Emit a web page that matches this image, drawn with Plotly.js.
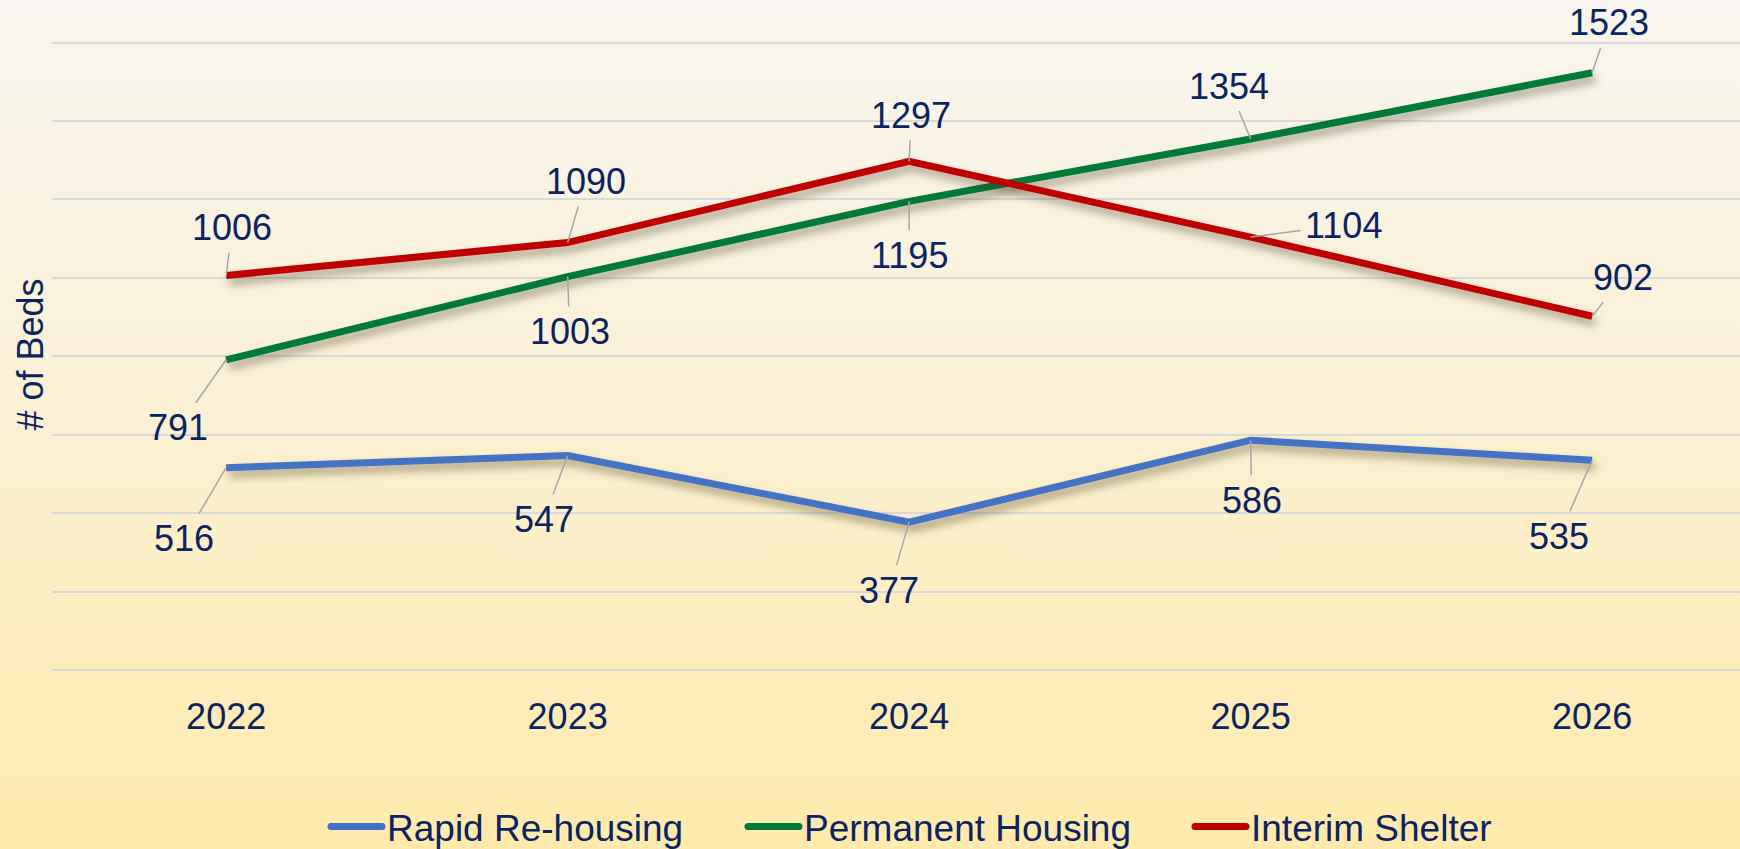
<!DOCTYPE html>
<html>
<head>
<meta charset="utf-8">
<script src="https://cdn.plot.ly/plotly-3.0.1.min.js"></script>
<style>
  html, body { margin: 0; padding: 0; width: 1740px; height: 849px; overflow: hidden;
    background: linear-gradient(to bottom, #f7f5ef 0%, #fbf1d6 45%, #ffeaab 100%); }
  #chart { width: 1740px; height: 849px; }
  .scatterlayer .trace path.js-line { filter: drop-shadow(3px 6px 4px rgba(60,50,20,0.45)); }
  .legendlines path.js-line { stroke-linecap: round; }
</style>
</head>
<body>
<div id="chart"></div>
<script>
const years = ['2022', '2023', '2024', '2025', '2026'];
const rapidRehousing = [516, 547, 377, 586, 535];
const permanentHousing = [791, 1003, 1195, 1354, 1523];
const interimShelter = [1006, 1090, 1297, 1104, 902];
const seriesNames = ['Rapid Re-housing', 'Permanent Housing', 'Interim Shelter'];
const yTitle = '# of Beds';

// label placement (pixel offsets of each value label from its point)
const rapidOffsets = [[-42, 71], [-24, 64], [-20, 68], [1, 60], [-33, 76]];
const permanentOffsets = [[-48, 68], [2, 55], [0, 54], [-22, -53], [17, -50]];
const interimOffsets = [[6, -48], [18, -61], [2, -46], [93, -12], [31, -39]];
// legend left edges (px from page left)
const legendLefts = [326, 743, 1190];

const navy = '#0b2461';
const colors = ['#4472c4', '#007a37', '#c00000'];
const font = 'Liberation Sans, Arial, sans-serif';

const series = [rapidRehousing, permanentHousing, interimShelter];
const offsets = [rapidOffsets, permanentOffsets, interimOffsets];
const legendIds = ['legend', 'legend2', 'legend3'];

const traces = series.map((vals, i) => ({
  type: 'scatter', mode: 'lines', x: years, y: vals, name: seriesNames[i],
  legend: legendIds[i],
  line: { color: colors[i], width: 7 }, hoverinfo: 'x+y+name'
}));

const annotations = [];
series.forEach((vals, i) => {
  vals.forEach((v, j) => {
    annotations.push({
      x: j, y: v, xref: 'x', yref: 'y', text: String(v),
      showarrow: true, arrowhead: 0, arrowwidth: 1.5, arrowcolor: '#a6a6a6',
      ax: offsets[i][j][0], ay: offsets[i][j][1], standoff: 0, borderpad: 4,
      font: { family: font, size: 36, color: navy }
    });
  });
});
annotations.push({
  xref: 'paper', yref: 'paper', x: -0.013, y: 0.5, xanchor: 'center', yanchor: 'middle',
  text: yTitle, textangle: -90, showarrow: false,
  font: { family: font, size: 36, color: navy }
});

const layout = {
  width: 1740, height: 849,
  margin: { l: 52, r: 0, t: 39, b: 179 },
  paper_bgcolor: 'rgba(0,0,0,0)', plot_bgcolor: 'rgba(0,0,0,0)',
  font: { family: font, size: 36, color: navy },
  showlegend: true,
  xaxis: { type: 'category', range: [-0.51, 4.433], showgrid: false, zeroline: false,
    showline: false, ticks: '', ticklabelstandoff: 22,
    tickfont: { family: font, size: 36, color: navy }, fixedrange: true },
  yaxis: { range: [0, 1609], dtick: 200, tick0: 0, showticklabels: false, ticks: '',
    showgrid: true, gridcolor: '#d9d9d9', gridwidth: 2, zeroline: true, zerolinecolor: '#d9d9d9',
    zerolinewidth: 2, showline: false, automargin: false, fixedrange: true },
  annotations: annotations
};
legendIds.forEach((id, i) => {
  layout[id] = {
    orientation: 'h', xref: 'container', yref: 'container',
    x: legendLefts[i] / 1740, xanchor: 'left', y: 1 - 827 / 849, yanchor: 'middle',
    itemwidth: 51, font: { family: font, size: 37, color: navy }, bgcolor: 'rgba(0,0,0,0)'
  };
});

Plotly.newPlot('chart', traces, layout, { displayModeBar: false });
</script>
</body>
</html>
